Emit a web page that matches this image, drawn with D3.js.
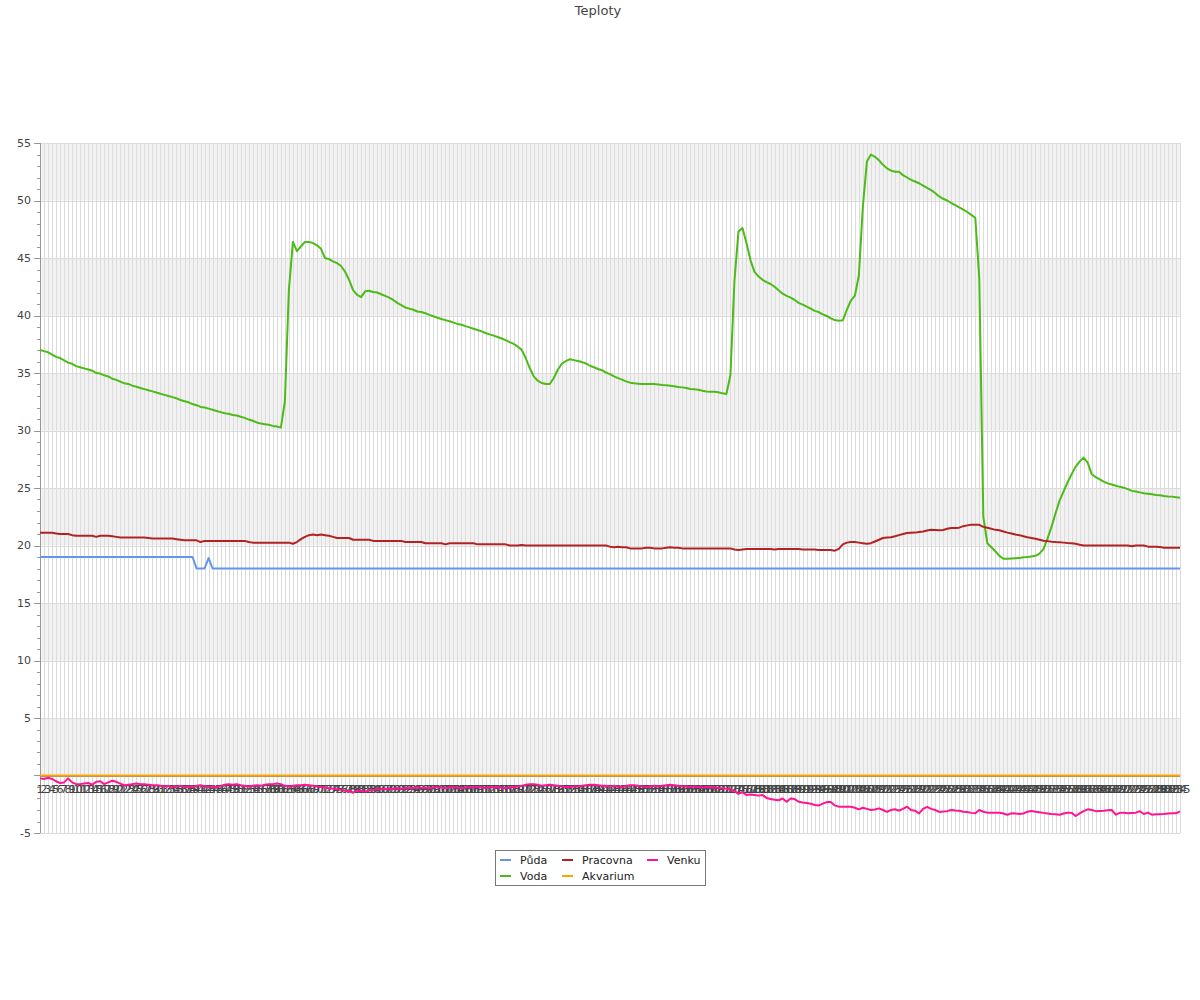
<!DOCTYPE html>
<html><head><meta charset="utf-8">
<script src="https://cdn.jsdelivr.net/npm/d3@7"></script>
<style>body{margin:0;background:#fff;}svg{font-family:"DejaVu Sans",sans-serif;}</style>
</head><body><svg id="chart" width="1200" height="1000"></svg>
<script>
const categories = [1,2,3,4,5,6,7,8,9,10,11,12,13,14,15,16,17,18,19,20,21,22,23,24,25,26,27,28,29,30,
31,32,33,34,35,36,37,38,39,40,41,42,43,44,45,46,47,48,49,50,51,52,53,54,55,56,57,58,59,60,
61,62,63,64,65,66,67,68,69,70,71,72,73,74,75,76,77,78,79,80,81,82,83,84,85,86,87,88,89,90,
91,92,93,94,95,96,97,98,99,100,101,102,103,104,105,106,107,108,109,110,111,112,113,114,115,116,117,118,119,120,
121,122,123,124,125,126,127,128,129,130,131,132,133,134,135,136,137,138,139,140,141,142,143,144,145,146,147,148,149,150,
151,152,153,154,155,156,157,158,159,160,161,162,163,164,165,166,167,168,169,170,171,172,173,174,175,176,177,178,179,180,
181,182,183,184,185,186,187,188,189,190,191,192,193,194,195,196,197,198,199,200,201,202,203,204,205,206,207,208,209,210,
211,212,213,214,215,216,217,218,219,220,221,222,223,224,225,226,227,228,229,230,231,232,233,234,235,236,237,238,239,240,
241,242,243,244,245,246,247,248,249,250,251,252,253,254,255,256,257,258,259,260,261,262,263,264,265,266,267,268,269,270,
271,272,273,274,275,276,277,278,279,280,281,282,283,284,285];

const puda = [
19,19,19,19,19,19,19,19,19,19, 19,19,19,19,19,19,19,19,19,19, 19,19,19,19,19,19,19,19,19,19,
19,19,19,19,19,19,19,19,19,18, 18,18,18.9,18,18,18,18,18,18,18, 18,18,18,18,18,18,18,18,18,18,
18,18,18,18,18,18,18,18,18,18, 18,18,18,18,18,18,18,18,18,18, 18,18,18,18,18,18,18,18,18,18,
18,18,18,18,18,18,18,18,18,18, 18,18,18,18,18,18,18,18,18,18, 18,18,18,18,18,18,18,18,18,18,
18,18,18,18,18,18,18,18,18,18, 18,18,18,18,18,18,18,18,18,18, 18,18,18,18,18,18,18,18,18,18,
18,18,18,18,18,18,18,18,18,18, 18,18,18,18,18,18,18,18,18,18, 18,18,18,18,18,18,18,18,18,18,
18,18,18,18,18,18,18,18,18,18, 18,18,18,18,18,18,18,18,18,18, 18,18,18,18,18,18,18,18,18,18,
18,18,18,18,18,18,18,18,18,18, 18,18,18,18,18,18,18,18,18,18, 18,18,18,18,18,18,18,18,18,18,
18,18,18,18,18,18,18,18,18,18, 18,18,18,18,18,18,18,18,18,18, 18,18,18,18,18,18,18,18,18,18,
18,18,18,18,18,18,18,18,18,18, 18,18,18,18,18,18,18,18,18,18, 18,18,18,18,18,18,18,18,18,18,
18,18,18,18,18,18,18,18,18,18, 18,18,18,18,18];

const voda = [37.0,36.9,36.8,36.6,36.4,36.3,36.1,35.9,35.8,35.6,
35.5,35.4,35.3,35.2,35.0,34.95,34.8,34.7,34.5,34.4,
34.25,34.1,34.05,33.9,33.8,33.7,33.6,33.5,33.4,33.3,
33.2,33.1,33.0,32.9,32.8,32.65,32.55,32.45,32.3,32.2,
32.05,32.0,31.9,31.8,31.7,31.6,31.5,31.45,31.35,31.3,
31.2,31.1,30.95,30.85,30.7,30.6,30.55,30.5,30.4,30.35,
30.25,32.5,42.2,46.4,45.6,46.0,46.4,46.4,46.3,46.1,
45.8,45.0,44.9,44.7,44.55,44.3,43.8,43.1,42.2,41.8,
41.6,42.1,42.15,42.05,42.0,41.85,41.7,41.55,41.35,41.1,
40.9,40.7,40.6,40.5,40.35,40.3,40.2,40.05,39.93,39.81,
39.7,39.6,39.5,39.38,39.27,39.2,39.08,38.97,38.85,38.74,
38.62,38.48,38.36,38.25,38.13,38.0,37.86,37.68,37.53,37.3,
37.01,36.3,35.43,34.71,34.33,34.13,34.04,34.04,34.56,35.28,
35.8,36.04,36.2,36.12,36.04,35.95,35.83,35.63,35.5,35.35,
35.24,35.04,34.9,34.71,34.56,34.42,34.27,34.16,34.1,34.07,
34.04,34.04,34.04,34.04,34.01,33.96,33.93,33.9,33.84,33.78,
33.75,33.7,33.61,33.58,33.55,33.46,33.4,33.37,33.37,33.32,
33.23,33.17,34.8,43.0,47.3,47.6,46.3,44.8,43.8,43.4,
43.1,42.9,42.74,42.5,42.2,41.9,41.7,41.55,41.35,41.1,
40.95,40.77,40.6,40.4,40.3,40.1,39.96,39.75,39.6,39.55,
39.58,40.5,41.3,41.72,43.5,49.5,53.4,54.0,53.8,53.5,
53.1,52.8,52.6,52.5,52.5,52.2,52.0,51.8,51.65,51.5,
51.3,51.1,50.9,50.65,50.35,50.15,50.0,49.8,49.6,49.4,
49.2,49.0,48.75,48.5,43.2,22.5,20.2,19.85,19.5,19.1,
18.85,18.85,18.88,18.9,18.92,18.97,19.0,19.05,19.1,19.3,
19.7,20.6,21.64,22.8,23.9,24.7,25.5,26.2,26.86,27.3,
27.64,27.2,26.2,25.95,25.75,25.55,25.4,25.3,25.2,25.1,
25.03,24.9,24.75,24.7,24.62,24.55,24.5,24.45,24.4,24.37,
24.3,24.27,24.25,24.2,24.15];

const pracovna = [21.1,21.1,21.1,21.1,21.05,21.0,21.0,21.0,20.9,20.85,
20.85,20.85,20.85,20.85,20.75,20.85,20.85,20.85,20.8,20.75,
20.7,20.7,20.7,20.7,20.7,20.7,20.7,20.65,20.6,20.6,
20.6,20.6,20.6,20.6,20.55,20.5,20.45,20.45,20.45,20.45,
20.3,20.4,20.4,20.4,20.4,20.4,20.4,20.4,20.4,20.4,
20.4,20.4,20.3,20.25,20.25,20.25,20.25,20.25,20.25,20.25,
20.25,20.25,20.25,20.15,20.3,20.55,20.75,20.9,20.95,20.9,
20.95,20.9,20.85,20.75,20.65,20.65,20.65,20.65,20.5,20.5,
20.5,20.5,20.5,20.4,20.4,20.4,20.4,20.4,20.4,20.4,
20.4,20.3,20.3,20.3,20.3,20.3,20.2,20.2,20.2,20.2,
20.2,20.1,20.2,20.2,20.2,20.2,20.2,20.2,20.2,20.1,
20.1,20.1,20.1,20.1,20.1,20.1,20.1,20.0,20.0,20.0,
20.05,20.0,20.0,20.0,20.0,20.0,20.0,20.0,20.0,20.0,
20.0,20.0,20.0,20.0,20.0,20.0,20.0,20.0,20.0,20.0,
20.0,20.0,19.9,19.85,19.9,19.85,19.85,19.75,19.75,19.75,
19.75,19.8,19.8,19.75,19.75,19.75,19.8,19.85,19.8,19.8,
19.75,19.75,19.75,19.75,19.75,19.75,19.75,19.75,19.75,19.75,
19.75,19.75,19.75,19.65,19.6,19.65,19.7,19.7,19.7,19.7,
19.7,19.7,19.7,19.65,19.7,19.7,19.7,19.7,19.7,19.7,
19.65,19.65,19.65,19.65,19.6,19.6,19.6,19.6,19.55,19.7,
20.1,20.25,20.3,20.3,20.25,20.2,20.15,20.2,20.35,20.5,
20.65,20.7,20.72,20.8,20.9,21.0,21.08,21.1,21.12,21.18,
21.22,21.3,21.36,21.35,21.32,21.35,21.45,21.52,21.53,21.55,
21.68,21.75,21.8,21.81,21.8,21.62,21.55,21.45,21.36,21.32,
21.22,21.12,21.05,20.95,20.9,20.8,20.72,20.65,20.58,20.5,
20.42,20.38,20.33,20.3,20.28,20.25,20.22,20.2,20.15,20.07,
20.0,20.0,20.0,20.0,20.0,20.0,20.0,20.0,20.0,20.0,
20.0,20.0,19.93,20.0,20.0,20.0,19.9,19.9,19.9,19.88,
19.8,19.8,19.8,19.8,19.8];

const akvarium = [
0,0,0,0,0,0,0,0,0,0, 0,0,0,0,0,0,0,0,0,0, 0,0,0,0,0,0,0,0,0,0,
0,0,0,0,0,0,0,0,0,0, 0,0,0,0,0,0,0,0,0,0, 0,0,0,0,0,0,0,0,0,0,
0,0,0,0,0,0,0,0,0,0, 0,0,0,0,0,0,0,0,0,0, 0,0,0,0,0,0,0,0,0,0,
0,0,0,0,0,0,0,0,0,0, 0,0,0,0,0,0,0,0,0,0, 0,0,0,0,0,0,0,0,0,0,
0,0,0,0,0,0,0,0,0,0, 0,0,0,0,0,0,0,0,0,0, 0,0,0,0,0,0,0,0,0,0,
0,0,0,0,0,0,0,0,0,0, 0,0,0,0,0,0,0,0,0,0, 0,0,0,0,0,0,0,0,0,0,
0,0,0,0,0,0,0,0,0,0, 0,0,0,0,0,0,0,0,0,0, 0,0,0,0,0,0,0,0,0,0,
0,0,0,0,0,0,0,0,0,0, 0,0,0,0,0,0,0,0,0,0, 0,0,0,0,0,0,0,0,0,0,
0,0,0,0,0,0,0,0,0,0, 0,0,0,0,0,0,0,0,0,0, 0,0,0,0,0,0,0,0,0,0,
0,0,0,0,0,0,0,0,0,0, 0,0,0,0,0];

const venku = [-0.25,-0.3,-0.2,-0.3,-0.5,-0.65,-0.6,-0.25,-0.6,-0.75,
-0.75,-0.7,-0.65,-0.8,-0.55,-0.5,-0.75,-0.6,-0.45,-0.55,
-0.7,-0.85,-0.8,-0.75,-0.7,-0.75,-0.75,-0.8,-0.85,-0.85,
-0.9,-0.95,-0.9,-1.0,-0.95,-0.9,-1.0,-0.95,-1.0,-0.9,
-0.85,-0.95,-1.0,-0.95,-1.0,-0.9,-0.8,-0.75,-0.8,-0.75,
-0.85,-0.9,-0.95,-0.9,-0.85,-0.9,-0.8,-0.75,-0.75,-0.7,
-0.75,-0.9,-0.95,-0.9,-0.85,-0.85,-0.8,-0.85,-0.9,-0.95,
-1.0,-1.05,-1.1,-1.15,-1.2,-1.25,-1.3,-1.35,-1.5,-1.3,
-1.35,-1.4,-1.3,-1.25,-1.2,-1.2,-1.15,-1.2,-1.15,-1.1,
-1.15,-1.1,-1.05,-1.1,-1.0,-1.1,-1.05,-1.1,-1.05,-1.0,
-1.05,-1.1,-1.05,-1.0,-1.05,-1.1,-1.05,-1.0,-1.05,-1.0,
-1.05,-1.1,-1.0,-1.05,-1.0,-1.05,-1.1,-1.05,-1.0,-0.95,
-0.9,-0.8,-0.75,-0.75,-0.8,-0.9,-0.85,-0.8,-0.85,-0.9,
-0.95,-1.0,-1.0,-0.95,-0.95,-0.9,-0.85,-0.8,-0.8,-0.85,
-0.9,-0.9,-0.95,-0.9,-0.95,-1.0,-0.9,-0.85,-0.85,-0.9,
-0.95,-1.0,-0.95,-0.9,-0.95,-0.9,-0.85,-0.8,-0.85,-0.9,
-0.95,-0.95,-1.0,-0.95,-1.0,-1.05,-1.0,-1.05,-1.0,-1.1,
-1.1,-1.15,-1.2,-1.35,-1.6,-1.45,-1.7,-1.65,-1.7,-1.75,
-1.7,-1.95,-2.05,-2.1,-2.15,-2.0,-2.28,-2.0,-2.05,-2.28,
-2.35,-2.4,-2.45,-2.57,-2.6,-2.45,-2.31,-2.31,-2.6,-2.71,
-2.71,-2.71,-2.71,-2.8,-2.94,-2.8,-2.9,-3.0,-2.95,-2.86,
-3.0,-3.17,-3.0,-2.94,-3.06,-2.9,-2.71,-3.0,-3.06,-3.3,
-2.9,-2.72,-2.9,-3.0,-3.17,-3.14,-3.1,-3.0,-3.05,-3.06,
-3.15,-3.17,-3.25,-3.29,-3.0,-3.15,-3.23,-3.23,-3.23,-3.23,
-3.3,-3.41,-3.29,-3.3,-3.35,-3.3,-3.15,-3.09,-3.15,-3.2,
-3.25,-3.3,-3.35,-3.38,-3.41,-3.3,-3.23,-3.25,-3.52,-3.3,
-3.1,-2.94,-3.0,-3.1,-3.08,-3.06,-3.03,-3.0,-3.41,-3.25,
-3.23,-3.29,-3.26,-3.23,-3.11,-3.35,-3.23,-3.41,-3.38,-3.36,
-3.35,-3.3,-3.29,-3.29,-3.11];

const seriesNames = ["Půda", "Voda", "Pracovna", "Akvarium", "Venku"];
const seriesColors = ["#6495ED", "#4CBB17", "#B22222", "#FFA500", "#FF1493"];
const seriesValues = [puda, voda, pracovna, akvarium, venku];
const yMajorTicks = [-5, 0, 5, 10, 15, 20, 25, 30, 35, 40, 45, 50, 55];
const yTickLabels = ["-5", "", "5", "10", "15", "20", "25", "30", "35", "40", "45", "50", "55"];
const titleText = "Teploty";

(function () {
const svg = d3.select("#chart");
const pLeft = 40, pRight = 1180, pTop = 143, pBottom = 833;

const x = d3.scalePoint().domain(categories.map(String)).range([pLeft, pRight]);
const y = d3.scaleLinear().domain([-5, 55]).range([pBottom, pTop]);

svg.append("rect").attr("width", 1200).attr("height", 1000).attr("fill", "#fff");

// alternating bands
const bands = svg.append("g");
yMajorTicks.filter(v => v >= 0 && v < 55 && (v % 10 === 0)).forEach(v => {
  bands.append("rect")
    .attr("x", pLeft).attr("width", pRight - pLeft)
    .attr("y", y(v + 5)).attr("height", y(v) - y(v + 5))
    .attr("fill", "#f2f2f2");
});

// vertical grid lines
svg.append("g").selectAll("line").data(categories).join("line")
  .attr("x1", d => Math.round(x(String(d))) + 0.5).attr("x2", d => Math.round(x(String(d))) + 0.5)
  .attr("y1", pTop).attr("y2", pBottom)
  .attr("stroke", "#dcdcdc").attr("stroke-width", 1);

// horizontal grid lines
svg.append("g").selectAll("line").data(yMajorTicks).join("line")
  .attr("x1", pLeft).attr("x2", pRight)
  .attr("y1", d => Math.round(y(d)) + 0.5).attr("y2", d => Math.round(y(d)) + 0.5)
  .attr("stroke", "#dcdcdc").attr("stroke-width", 1);

// y axis
const yAxisG = svg.append("g");
yAxisG.append("line").attr("x1", pLeft + 0.5).attr("x2", pLeft + 0.5).attr("y1", pTop).attr("y2", pBottom)
  .attr("stroke", "#999");
const minor = d3.range(-5, 56, 1);
yAxisG.selectAll("line.minor").data(minor).join("line").attr("class", "minor")
  .attr("x1", d => d % 5 === 0 ? 34 : 37).attr("x2", pLeft)
  .attr("y1", d => Math.round(y(d)) + 0.5).attr("y2", d => Math.round(y(d)) + 0.5)
  .attr("stroke", "#999");
yAxisG.selectAll("text").data(yMajorTicks).join("text")
  .attr("x", 31).attr("y", d => y(d)).attr("dy", "0.35em")
  .attr("text-anchor", "end").attr("font-size", 11).attr("fill", "#444")
  .text((d, i) => yTickLabels[i]);

// x axis line at zero
svg.append("line").attr("x1", pLeft).attr("x2", pRight)
  .attr("y1", Math.round(y(0)) + 1.5).attr("y2", Math.round(y(0)) + 1.5)
  .attr("stroke", "#888").attr("stroke-width", 1);

// x labels
svg.append("g").selectAll("text").data(categories).join("text")
  .attr("x", d => x(String(d))).attr("y", y(0) + 17.5)
  .attr("text-anchor", "middle").attr("font-size", 11).attr("fill", "#444")
  .text(d => String(d));

// lines
const line = d3.line().x((d, i) => x(String(categories[i]))).y(d => y(d));
seriesValues.forEach((vals, s) => {
  svg.append("path").datum(vals).attr("d", line)
    .attr("fill", "none").attr("stroke", seriesColors[s]).attr("stroke-width", 2)
    .attr("stroke-linejoin", "round");
});

// title
svg.append("text").attr("x", 598).attr("y", 15).attr("text-anchor", "middle")
  .attr("font-size", 13).attr("fill", "#444").text(titleText);

// legend
const lg = svg.append("g");
lg.append("rect").attr("x", 495.5).attr("y", 850.5).attr("width", 210).attr("height", 35)
  .attr("fill", "#fff").attr("stroke", "#777");
const colX = [500, 562, 647];
const rowY = [860, 876];
seriesNames.forEach((name, i) => {
  const c = Math.floor(i / 2), r = i % 2;
  lg.append("line").attr("x1", colX[c]).attr("x2", colX[c] + 11)
    .attr("y1", rowY[r]).attr("y2", rowY[r])
    .attr("stroke", seriesColors[i]).attr("stroke-width", 2);
  lg.append("text").attr("x", colX[c] + 20).attr("y", rowY[r]).attr("dy", "0.35em")
    .attr("font-size", 11).attr("fill", "#222").text(name);
});
})();
</script></body></html>
